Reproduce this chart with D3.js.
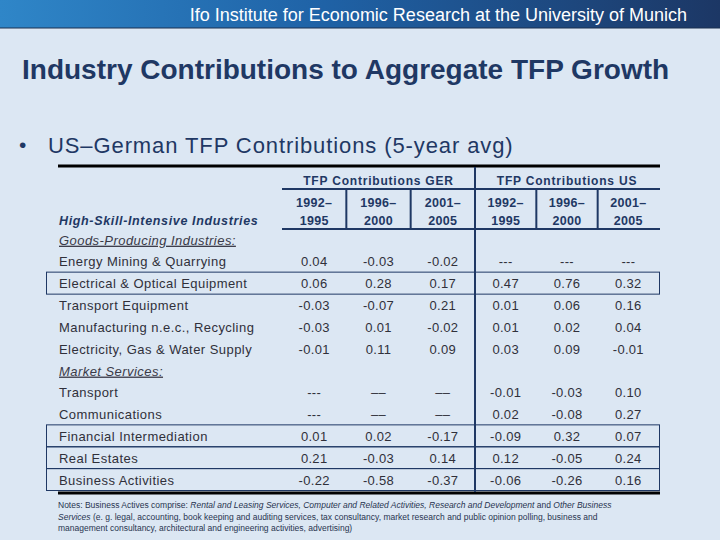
<!DOCTYPE html>
<html>
<head>
<meta charset="utf-8">
<script src="https://cdn.jsdelivr.net/npm/d3@7"></script>
<style>
  html, body { margin: 0; padding: 0; background: #dce7f3; }
  svg { display: block; }
</style>
</head>
<body>
<svg id="chart" width="720" height="540"></svg>
<script>
// ---------- data ----------
const headerText = "Ifo Institute for Economic Research at the University of Munich";
const titleText = "Industry Contributions to Aggregate TFP Growth";
const bulletText = "US–German TFP Contributions (5-year avg)";
const groups = ["TFP Contributions GER", "TFP Contributions US"];
const periods = [["1992–", "1995"], ["1996–", "2000"], ["2001–", "2005"]];
const tableTitle = "High-Skill-Intensive Industries";
const sections = ["Goods-Producing Industries:", "Market Services:"];
const goodsIndustries = ["Energy Mining & Quarrying", "Electrical & Optical Equipment", "Transport Equipment",
  "Manufacturing n.e.c., Recycling", "Electricity, Gas & Water Supply"];
const serviceIndustries = ["Transport", "Communications", "Financial Intermediation", "Real Estates", "Business Activities"];
const gerValues = [
  ["0.04", "-0.03", "-0.02"],
  ["0.06", "0.28", "0.17"],
  ["-0.03", "-0.07", "0.21"],
  ["-0.03", "0.01", "-0.02"],
  ["-0.01", "0.11", "0.09"],
  ["---", "––", "––"],
  ["---", "––", "––"],
  ["0.01", "0.02", "-0.17"],
  ["0.21", "-0.03", "0.14"],
  ["-0.22", "-0.58", "-0.37"]
];
const usValues = [
  ["---", "---", "---"],
  ["0.47", "0.76", "0.32"],
  ["0.01", "0.06", "0.16"],
  ["0.01", "0.02", "0.04"],
  ["0.03", "0.09", "-0.01"],
  ["-0.01", "-0.03", "0.10"],
  ["0.02", "-0.08", "0.27"],
  ["-0.09", "0.32", "0.07"],
  ["0.12", "-0.05", "0.24"],
  ["-0.06", "-0.26", "0.16"]
];
const boxedRows = ["Electrical & Optical Equipment", "Financial Intermediation", "Real Estates", "Business Activities"];
const noteLines = [
  [["Notes: ", false], ["Business Actives comprise: ", false], ["Rental and Leasing Services, Computer and Related Activities, Research and Development", true], [" and ", false], ["Other Business", true]],
  [["Services", true], [" (e. g. legal, accounting, book keeping and auditing services, tax consultancy, market research and public opinion polling, business and", false]],
  [["management consultancy, architectural and engineering activities, advertising)", false]]
];

// ---------- drawing ----------
const svg = d3.select("#chart");
const navy = "#1f3864";
const textCol = "#30303a";
const font = "'Liberation Sans', Arial, sans-serif";
const narrow = "'Liberation Sans Narrow', 'Arial Narrow', 'Liberation Sans', sans-serif";

svg.append("rect").attr("width", 720).attr("height", 540).attr("fill", "#dce7f3");

// header bar
const defs = svg.append("defs");
const grad = defs.append("linearGradient").attr("id", "hdr").attr("x1", "0%").attr("x2", "100%");
grad.append("stop").attr("offset", "0%").attr("stop-color", "#2f86c8");
grad.append("stop").attr("offset", "45%").attr("stop-color", "#1f62a6");
grad.append("stop").attr("offset", "100%").attr("stop-color", "#1c3765");
svg.append("rect").attr("x", 0).attr("y", 0).attr("width", 720).attr("height", 28).attr("fill", "url(#hdr)");
svg.append("line").attr("x1", 0).attr("x2", 720).attr("y1", 28).attr("y2", 28).attr("stroke", "#1a3050").attr("stroke-width", 1);
svg.append("text").attr("x", 687).attr("y", 21).attr("text-anchor", "end")
  .attr("font-family", narrow).attr("font-size", 18).attr("fill", "#ffffff").text(headerText);

// title
svg.append("text").attr("x", 22).attr("y", 79)
  .attr("font-family", narrow).attr("font-weight", "bold").attr("font-size", 28)
  .attr("fill", navy).text(titleText);

// bullet
svg.append("text").attr("x", 19).attr("y", 152).attr("font-family", font).attr("font-size", 21)
  .attr("fill", navy).text("•");
svg.append("text").attr("x", 48).attr("y", 153).attr("font-family", font).attr("font-size", 22)
  .attr("letter-spacing", 0.9).attr("fill", navy).text(bulletText);

// scales
const xGroup = d3.scaleOrdinal().domain(groups).range([[282, 475], [475, 659]]);
const xCol = groups.map(g => d3.scaleBand().domain(d3.range(periods.length)).range(xGroup(g)));

const rows = [
  { label: sections[0], type: "section" },
  ...goodsIndustries.map((d, i) => ({ label: d, type: "row", idx: i })),
  { label: sections[1], type: "section" },
  ...serviceIndustries.map((d, i) => ({ label: d, type: "row", idx: goodsIndustries.length + i }))
];
const y = d3.scalePoint().domain(rows.map(r => r.label)).range([240, 480]);

const tableLeft = 58, tableRight = 659, labelX = 59, boxLeft = 46;

// boxed rows
svg.append("g").selectAll("rect").data(rows.filter(r => boxedRows.includes(r.label))).join("rect")
  .attr("x", boxLeft + 0.5).attr("y", d => y(d.label) - 11.5)
  .attr("width", tableRight - boxLeft).attr("height", 22)
  .attr("fill", "none").attr("stroke", navy).attr("stroke-width", 1);

// top & bottom thick rules
svg.append("line").attr("x1", tableLeft).attr("x2", tableRight + 1).attr("y1", 166).attr("y2", 166)
  .attr("stroke", "#000").attr("stroke-width", 3);
svg.append("line").attr("x1", tableLeft).attr("x2", tableRight + 1).attr("y1", 493).attr("y2", 493)
  .attr("stroke", "#000").attr("stroke-width", 3);

// header rules
[189, 229].forEach(yy => svg.append("line").attr("x1", 282).attr("x2", tableRight + 1)
  .attr("y1", yy).attr("y2", yy).attr("stroke", navy).attr("stroke-width", 2));
// group separator
svg.append("line").attr("x1", xGroup(groups[1])[0]).attr("x2", xGroup(groups[1])[0])
  .attr("y1", 167).attr("y2", 492).attr("stroke", navy).attr("stroke-width", 2);
// period separators
groups.forEach((g, gi) => {
  d3.range(1, periods.length).forEach(p => {
    const xx = xCol[gi](p);
    svg.append("line").attr("x1", xx).attr("x2", xx).attr("y1", 189).attr("y2", 229)
      .attr("stroke", navy).attr("stroke-width", 2);
  });
});

// group headers
svg.append("g").selectAll("text").data(groups).join("text")
  .attr("x", d => (xGroup(d)[0] + xGroup(d)[1]) / 2).attr("y", 185)
  .attr("text-anchor", "middle").attr("font-family", font).attr("font-weight", "bold")
  .attr("font-size", 12).attr("letter-spacing", 0.8).attr("fill", navy).text(d => d);

// period headers
groups.forEach((g, gi) => {
  const gg = svg.append("g");
  periods.forEach((p, pi) => {
    const cx = xCol[gi](pi) + xCol[gi].bandwidth() / 2;
    p.forEach((line, li) => {
      gg.append("text").attr("x", cx).attr("y", 207 + li * 18).attr("text-anchor", "middle")
        .attr("font-family", font).attr("font-weight", "bold").attr("font-size", 12.5)
        .attr("letter-spacing", 0.3).attr("fill", navy).text(line);
    });
  });
});

// table title
svg.append("text").attr("x", labelX).attr("y", 225).attr("font-family", font)
  .attr("font-weight", "bold").attr("font-style", "italic").attr("font-size", 12.5)
  .attr("letter-spacing", 0.65).attr("fill", navy).text(tableTitle);

// row labels
svg.append("g").selectAll("text").data(rows).join("text")
  .attr("x", labelX).attr("y", d => y(d.label)).attr("dy", "0.36em")
  .attr("font-family", font).attr("font-size", 13).attr("letter-spacing", 0.45)
  .attr("font-style", d => d.type === "section" ? "italic" : "normal")
  .attr("text-decoration", d => d.type === "section" ? "underline" : "none")
  .attr("fill", d => d.type === "section" ? "#3a3a48" : textCol)
  .text(d => d.label);

// values
const valueRows = rows.filter(r => r.type === "row");
[gerValues, usValues].forEach((vals, gi) => {
  const cells = valueRows.flatMap(r => vals[r.idx].map((v, pi) => ({ r, v, pi })));
  svg.append("g").selectAll("text").data(cells).join("text")
    .attr("x", d => xCol[gi](d.pi) + xCol[gi].bandwidth() / 2)
    .attr("y", d => y(d.r.label)).attr("dy", "0.36em")
    .attr("text-anchor", "middle").attr("font-family", font).attr("font-size", 13)
    .attr("letter-spacing", 0.3).attr("fill", textCol).text(d => d.v);
});

// notes
const notes = svg.append("g");
noteLines.forEach((parts, li) => {
  const t = notes.append("text").attr("x", 58).attr("y", 508 + li * 11.5)
    .attr("font-family", font).attr("font-size", 8.5).attr("fill", "#283450");
  parts.forEach(([txt, it]) => t.append("tspan").attr("font-style", it ? "italic" : "normal").text(txt));
});
</script>
</body>
</html>
